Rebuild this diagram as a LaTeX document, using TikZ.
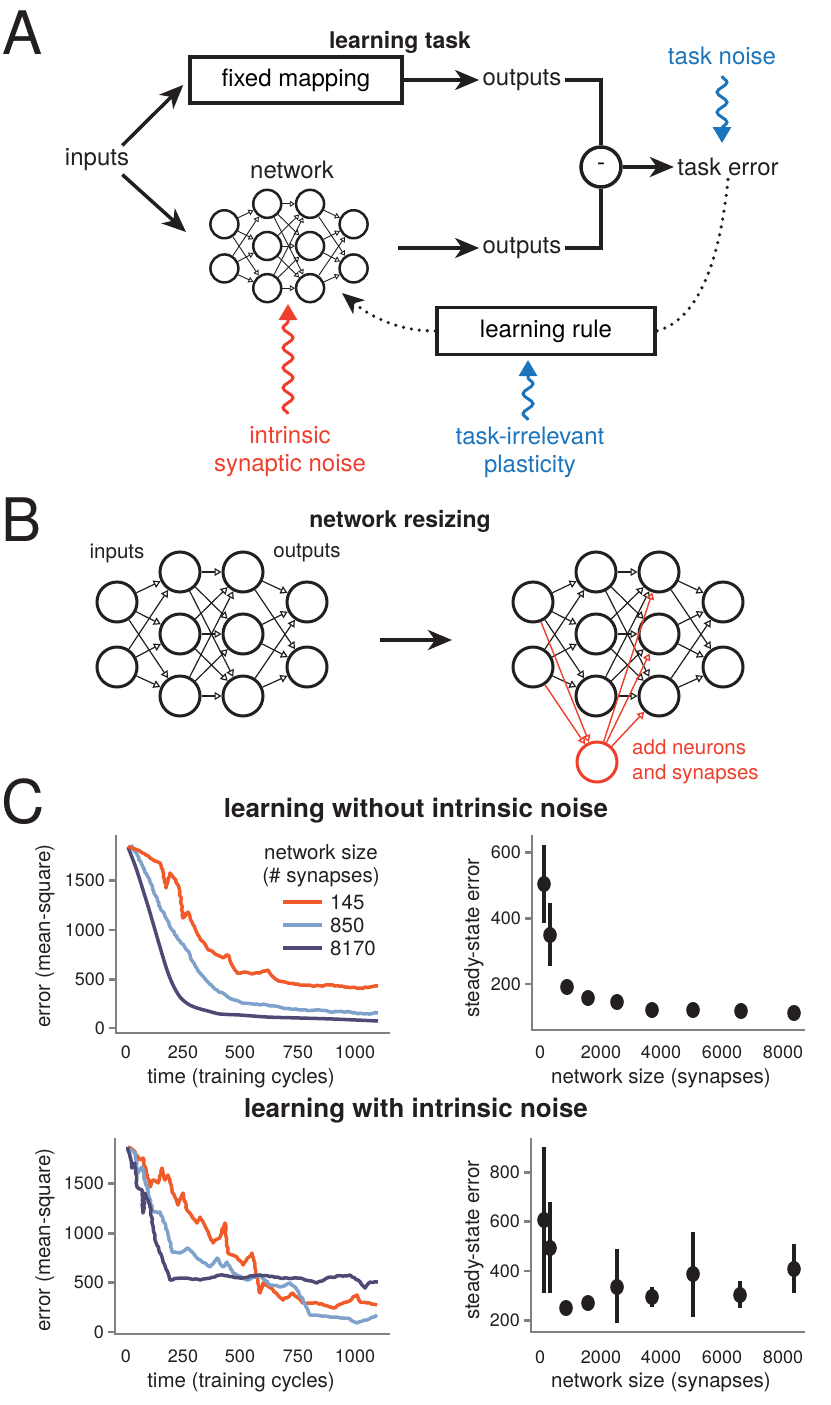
\documentclass[tikz,border=0pt]{standalone}
\usepackage{fontspec}
\setmainfont{TeX Gyre Heros}
\usetikzlibrary{arrows.meta,decorations.pathmorphing,calc,positioning}

\definecolor{ink}{HTML}{231F20}
\definecolor{nred}{HTML}{EE3E2C}
\definecolor{nblue}{HTML}{1C75BC}
\definecolor{c145}{HTML}{F15A29}
\definecolor{c850}{HTML}{7EA2CB}
\definecolor{c8170}{HTML}{4E4A75}
\definecolor{axgray}{HTML}{808080}

\newcommand{\txtA}{\fontsize{24}{28}\selectfont}
\newcommand{\txtB}{\fontsize{20.5}{25}\selectfont}
\newcommand{\txtax}{\fontsize{20.5}{25}\selectfont}
\newcommand{\txttick}{\fontsize{18}{20}\selectfont}
\newcommand{\txttitle}{\fontsize{23}{26}\selectfont\bfseries}
\newcommand{\txttitleC}{\fontsize{26}{30}\selectfont\bfseries}
\newcommand{\txtletter}{\fontsize{60}{60}\selectfont}

\tikzset{
  neuron/.style={circle, draw=ink, line width=3pt, minimum size=40pt, inner sep=0pt, fill=white},
  syn/.style={draw=ink, line width=1.2pt, -{Triangle[open,length=7pt,width=8pt]}},
  box/.style={draw=ink, line width=3.5pt, minimum width=212pt, minimum height=46pt, font=\txtA},
  arr/.style={draw=ink, line width=3.5pt, -{Stealth[length=24pt,width=20pt,inset=7pt]}},
  fb/.style={draw=ink, line width=3.6pt, line cap=round, dash pattern=on 0pt off 8pt},
  wig/.style={line width=3pt, decorate, decoration={snake, amplitude=5pt, segment length=20pt, post length=12pt},
    -{Triangle[length=16pt,width=18pt]}},
  axis/.style={draw=axgray, line width=2.5pt},
  curve/.style={line width=3.5pt, line join=round},
  jit/.style={decorate, decoration={random steps, segment length=2.5pt, amplitude=0.7pt}},
  ebar/.style={draw=ink, line width=4pt},
  lbl/.style={font=\txtA, text=ink},
}

% network of 2-3-3-2 neurons: name, centre, scale
\newcommand{\drawnet}[3]{%
  \begin{scope}[shift={#2}, scale=#3]
    \foreach \col/\cx/\rows in {1/-95/{-32,33}, 2/-32/{-62,0,62}, 3/31/{-62,0,62}, 4/95/{-32,33}}
      \foreach \ry [count=\rw] in \rows
        \node[neuron] (#1-\col-\rw) at (\cx,\ry) {};
    \foreach \i in {1,2} \foreach \j in {1,2,3} \draw[syn] (#1-1-\i) -- (#1-2-\j);
    \foreach \i in {1,2,3} \foreach \j in {1,2,3} \draw[syn] (#1-2-\i) -- (#1-3-\j);
    \foreach \i in {1,2,3} \foreach \j in {1,2} \draw[syn] (#1-3-\i) -- (#1-4-\j);
  \end{scope}}

\begin{document}
\begin{tikzpicture}[x=1pt, y=-1pt]
\useasboundingbox (0,0) rectangle (830,1405);
\pgfmathsetseed{7}

% ---------------- A: learning task
\node[font=\txtletter, text=ink] (labA) at (23,33) {A};
\node[font=\txttitle, text=ink] (titA) at (400,42) {learning task};

\node[lbl] (inputs) at (97,160) {inputs};
\node[box] (fixed) at (296,80) {fixed mapping};
\node[lbl] (out1) at (522,80) {outputs};
\node[lbl] (out2) at (522,248) {outputs};
\node[lbl] (netlbl) at (292,170) {network};
\node[circle, draw=ink, line width=3.5pt, minimum size=40pt, inner sep=0pt, font=\txtA] (minus) at (601,167) {-};
\node[lbl] (terror) at (728,167) {task error};
\node[lbl, text=nblue] (tnoise) at (722,56) {task noise};
\node[box, minimum width=218pt, minimum height=47pt] (lrule) at (546,331) {learning rule};
\node[lbl, text=nred, align=center] (isn) at (290,452) {intrinsic\\synaptic noise};
\node[lbl, text=nblue, align=center] (tip) at (530,452) {task-irrelevant\\plasticity};

\begin{scope}[neuron/.append style={minimum size=28pt, line width=2.5pt},
  syn/.append style={line width=0.9pt, -{Triangle[open,length=5pt,width=6pt]}}]
\drawnet{a}{(289,246)}{0.68}
\end{scope}

\coordinate (netin) at (186,232);
\coordinate (netout) at (398,248);
\coordinate (netfb) at (342,293);
\draw[arr, shorten >=7pt] (inputs.30) -- (fixed.west);
\draw[arr] (inputs.-30) -- (netin);
\draw[arr] (fixed.east) -- (out1.west);
\draw[arr] (netout) -- (out2.west);
\draw[draw=ink, line width=3.5pt] (out1.east) -| (minus.north);
\draw[draw=ink, line width=3.5pt] (out2.east) -| (minus.south);
\draw[arr] (minus.east) -- (terror.west);

\coordinate (tn1) at (722,76);
\coordinate (tn2) at (722,143);
\draw[wig, nblue] (tn1) -- (tn2);
\coordinate (sn1) at (288,414);
\coordinate (sn2) at (288,304);
\draw[wig, nred] (sn1) -- (sn2);
\coordinate (pl1) at (528,420);
\coordinate (pl2) at (528,360);
\draw[wig, nblue] (pl1) -- (pl2);

\draw[fb] (terror.south) .. controls (718,280) and (690,322) .. (lrule.east);
\draw[fb, -{Stealth[length=22pt,width=18pt,inset=6pt]}] (lrule.west) .. controls (400,331) and (372,318) .. (netfb);

% ---------------- B: network resizing
\node[font=\txtletter, text=ink] (labB) at (22,520) {B};
\node[font=\txttitle, text=ink] (titB) at (400,521) {network resizing};
\drawnet{b1}{(212,634)}{1}
\drawnet{b2}{(628,634)}{1}
\node[font=\txtB, text=ink] (binp) at (117,553) {inputs};
\node[font=\txtB, text=ink] (bout) at (307,553) {outputs};
\coordinate (rs1) at (380,640);
\coordinate (rs2) at (452,640);
\draw[arr] (rs1) -- (rs2);

\node[neuron, draw=nred] (newn) at (597,762) {};
\foreach \i in {1,2} \draw[syn, draw=nred, line width=1.4pt] (b2-1-\i) -- (newn);
\foreach \j in {1,2,3} \draw[syn, draw=nred, line width=1.4pt] (newn) -- (b2-3-\j);
\node[font=\txtB, text=nred, anchor=west, align=left, inner sep=0pt] (addlbl) at (632,762) {add neurons\\and synapses};

% ---------------- C: learning without / with noise
\node[font=\txtletter, text=ink] (labC) at (23,802) {C};
\node[font=\txttitleC, text=ink] (titC1) at (416,811) {learning without intrinsic noise};
\node[font=\txttitleC, text=ink] (titC2) at (416,1111) {learning with intrinsic noise};

% top left plot
\draw[axis] (116,835) -- (116,1033) -- (390,1033);
\foreach \v/\yy in {1500/880.7,1000/930,500/979.3,0/1028}{
  \draw[axis] (109,\yy) -- (116,\yy);
  \node[anchor=east, font=\txttick, text=ink, inner sep=1pt] (tly\v) at (106,\yy) {\v};
}
\foreach \v/\xx in {0/126,250/183,500/240,750/298,1000/355}
  \node[font=\txttick, text=ink] (tlx\v) at (\xx,1052) {\v};
\node[rotate=90, font=\txtax, text=ink] (tlylab) at (45,936) {error (mean-square)};
\node[font=\txtax, text=ink] (tlxlab) at (241,1078) {time (training cycles)};

\draw[curve, c8170] plot[smooth] coordinates {(128,847) (136,868) (143,890) (148,906) (153,923) (160,947) (167,970) (173,985) (180,997) (188,1004) (197,1008) (208,1011) (220,1014) (240,1015) (267,1017) (300,1018) (333,1019) (378,1021)};
\draw[curve, c850, jit] (131,845) -- (137,855) -- (143,867) -- (150,882) -- (160,907) -- (166,918) -- (172,930) -- (180,941) -- (187,950) -- (193,962) -- (200,973) -- (208,982) -- (217,990) -- (228,997) -- (240,1002) -- (253,1004) -- (267,1005) -- (283,1008) -- (300,1010) -- (316,1010) -- (333,1012) -- (350,1012) -- (365,1014) -- (378,1013);
\draw[curve, c145, jit] (128,846) -- (135,849) -- (140,851) -- (146,855) -- (150,858) -- (155,861) -- (160,863) -- (163,872) -- (166,888) -- (168,880) -- (170,873) -- (174,878) -- (178,885) -- (181,900) -- (183,918) -- (186,914) -- (188,912) -- (192,922) -- (197,933) -- (202,941) -- (207,948) -- (215,954) -- (223,958) -- (226,955) -- (228,955) -- (231,963) -- (237,973) -- (245,972) -- (252,974) -- (260,973) -- (265,971) -- (268,970) -- (272,976) -- (277,980) -- (288,983) -- (300,985) -- (315,986) -- (330,985) -- (345,987) -- (360,988) -- (370,987) -- (378,986);

\node[font=\txtax, text=ink] (legt1) at (321,852) {network size};
\node[font=\txtax, text=ink] (legt2) at (321,877) {(\# synapses)};
\foreach \nm/\cc/\yy in {145/c145/902,850/c850/925,8170/c8170/948}{
  \coordinate (lg\nm a) at (283,\yy);
  \coordinate (lg\nm b) at (322,\yy);
  \draw[curve, \cc] (lg\nm a) -- (lg\nm b);
  \node[font=\txtax, text=ink, anchor=west, inner sep=0pt] (lgt\nm) at (330,\yy) {\nm};
}

% top right plot
\draw[axis] (532,835) -- (532,1030) -- (805,1030);
\foreach \v/\yy in {600/852.7,400/918.3,200/984}{
  \draw[axis] (525,\yy) -- (532,\yy);
  \node[anchor=east, font=\txttick, text=ink, inner sep=1pt] (try\v) at (522,\yy) {\v};
}
\foreach \v/\xx in {0/540,2000/601,4000/661,6000/722,8000/783}
  \node[font=\txttick, text=ink] (trx\v) at (\xx,1052) {\v};
\node[rotate=90, font=\txtax, text=ink] (trylab) at (474,938) {steady-state error};
\node[font=\txtax, text=ink] (trxlab) at (661,1078) {network size (synapses)};
\foreach \xx/\yy/\lo/\hi in {544/884/845/923, 550/935/903/966, 567/987/980/994, 588/998/991/1004,
  617/1002/1002/1002, 652/1010/1010/1010, 693/1010/1010/1010, 741/1011/1011/1011, 794/1013/1013/1013}{
  \draw[ebar] (\xx,\lo) -- (\xx,\hi);
  \fill[ink] (\xx,\yy) ellipse [x radius=6.8pt, y radius=8pt];
}

% bottom left plot
\draw[axis] (115,1138) -- (115,1334) -- (390,1334);
\foreach \v/\yy in {1500/1183.3,1000/1233.3,500/1282.3,0/1332}{
  \draw[axis] (108,\yy) -- (115,\yy);
  \node[anchor=east, font=\txttick, text=ink, inner sep=1pt] (bly\v) at (105,\yy) {\v};
}
\foreach \v/\xx in {0/126,250/183,500/240,750/298,1000/355}
  \node[font=\txttick, text=ink] (blx\v) at (\xx,1356) {\v};
\node[rotate=90, font=\txtax, text=ink] (blylab) at (45,1240) {error (mean-square)};
\node[font=\txtax, text=ink] (blxlab) at (241,1382) {time (training cycles)};

\draw[curve, c145, jit] (128,1147) -- (133,1150) -- (140,1160) -- (143,1158) -- (150,1187) -- (153,1180) -- (158,1183) -- (162,1168) -- (165,1180) -- (168,1175) -- (172,1190) -- (178,1205) -- (183,1193) -- (187,1210) -- (197,1223) -- (200,1217) -- (207,1230) -- (213,1243) -- (220,1237) -- (225,1223) -- (228,1253) -- (237,1257) -- (243,1265) -- (252,1253) -- (257,1277) -- (260,1293) -- (263,1283) -- (273,1290) -- (283,1300) -- (293,1293) -- (303,1303) -- (317,1303) -- (333,1308) -- (347,1302) -- (357,1295) -- (360,1302) -- (367,1303) -- (377,1305);
\draw[curve, c850, jit] (128,1147) -- (135,1153) -- (138,1173) -- (142,1167) -- (153,1212) -- (160,1212) -- (167,1230) -- (172,1252) -- (180,1253) -- (188,1248) -- (197,1258) -- (210,1267) -- (217,1258) -- (223,1267) -- (227,1262) -- (233,1273) -- (247,1280) -- (260,1275) -- (270,1285) -- (280,1287) -- (290,1283) -- (297,1290) -- (303,1300) -- (310,1315) -- (333,1317) -- (347,1318) -- (357,1323) -- (367,1320) -- (377,1315);
\draw[curve, c8170, jit] (128,1147) -- (132,1168) -- (135,1163) -- (137,1187) -- (142,1190) -- (143,1213) -- (145,1193) -- (150,1207) -- (155,1240) -- (162,1257) -- (170,1280) -- (180,1278) -- (200,1280) -- (220,1275) -- (240,1278) -- (260,1275) -- (280,1278) -- (300,1278) -- (317,1283) -- (330,1277) -- (350,1275) -- (358,1280) -- (365,1288) -- (370,1282) -- (378,1282);

% bottom right plot
\draw[axis] (531,1138) -- (531,1332) -- (805,1332);
\foreach \v/\yy in {800/1172.7,600/1221.7,400/1271,200/1320.7}{
  \draw[axis] (524,\yy) -- (531,\yy);
  \node[anchor=east, font=\txttick, text=ink, inner sep=1pt] (bry\v) at (521,\yy) {\v};
}
\foreach \v/\xx in {0/540,2000/601,4000/661,6000/722,8000/783}
  \node[font=\txttick, text=ink] (brx\v) at (\xx,1357) {\v};
\node[rotate=90, font=\txtax, text=ink] (brylab) at (474,1240) {steady-state error};
\node[font=\txtax, text=ink] (brxlab) at (661,1382) {network size (synapses)};
\foreach \xx/\yy/\lo/\hi in {544/1220/1147/1293, 550/1248/1202/1293, 566/1308/1308/1308, 588/1303/1303/1303,
  617/1287/1249/1323, 652/1297/1287/1307, 693/1274/1232/1317, 740/1295/1281/1308, 794/1269/1244/1293}{
  \draw[ebar] (\xx,\lo) -- (\xx,\hi);
  \fill[ink] (\xx,\yy) ellipse [x radius=6.8pt, y radius=8pt];
}
\end{tikzpicture}
\end{document}
